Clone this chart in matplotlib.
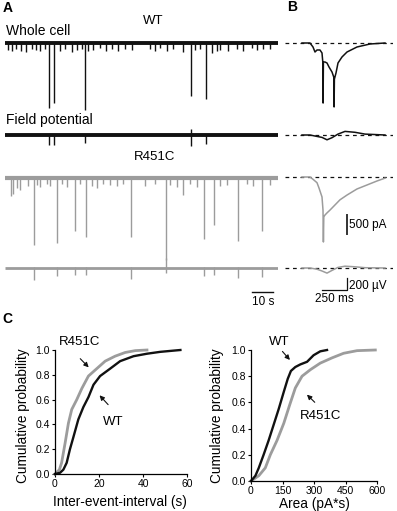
import numpy as np
import matplotlib
matplotlib.use('agg')
import matplotlib.pyplot as plt

plt.rcParams['font.family'] = ['Liberation Sans', 'DejaVu Sans']

# ---- data ----
# panel A, spontaneous events (time in s, amplitude in pA or uV)
wt_big_t = [21.0, 23.3, 38.1, 88.6, 95.7]
wt_big_amp = [1710, 1580, 1760, 1390, 1470]
wt_small_t = [1.4, 3.3, 5.2, 7.6, 10.0, 12.9, 14.8, 16.7, 19.0, 26.2, 28.6, 31.9,
              34.3, 36.7, 39.5, 41.9, 45.2, 48.1, 51.0, 53.8, 57.1, 60.5, 69.0, 71.4,
              73.8, 77.1, 80.0, 84.8, 90.5, 92.9, 98.6, 101.0, 102.4, 106.2, 110.5,
              113.3, 117.6, 120.0, 122.9, 126.2]
wt_small_amp = [180, 220, 160, 200, 240, 150, 190, 210, 170, 200, 150, 230, 180, 160,
                210, 190, 140, 200, 170, 220, 150, 180, 160, 200, 140, 210, 170, 230,
                190, 150, 260, 220, 180, 200, 160, 210, 140, 190, 170, 150]
wt_fp_down = [170, 160, 140, 180, 150]
wt_fp_up = [20, 20, 20, 100, 20]

r_big_t = [2.9, 3.8, 13.8, 24.8, 33.3, 38.6, 60.0, 76.7, 84.8, 94.8, 99.5, 111.0, 122.4]
r_big_amp = [470, 420, 1760, 1710, 1390, 1550, 1550, 2160, 450, 1600, 1240, 1660, 1390]
r_small_t = [5.7, 7.1, 11.0, 15.2, 16.7, 20.0, 21.4, 27.1, 29.5, 35.7, 41.4, 43.8, 46.7,
             50.0, 53.3, 56.2, 66.7, 71.4, 78.6, 81.9, 88.1, 91.4, 102.4, 105.7, 115.2,
             118.1, 126.2]
r_small_amp = [260, 320, 200, 180, 240, 150, 210, 170, 230, 160, 200, 260, 150, 190,
               220, 170, 210, 160, 190, 250, 170, 230, 200, 180, 160, 210, 190]
r_fp_t = [13.8, 24.8, 33.3, 38.6, 60.0, 76.7, 94.8, 99.5, 111.0, 122.4]
r_fp_down = [195, 140, 120, 120, 180, 85, 135, 110, 165, 155]
r_fp_up = [20, 20, 15, 15, 20, 170, 20, 15, 20, 20]

# panel B, averaged events (time in ms)
wt_avg_t = [0, 80, 110, 130, 150, 180, 200, 208, 211, 214, 230, 250, 270, 300, 318,
            321, 324, 340, 360, 400, 450, 550, 680, 830]
wt_avg_pA = [0, 0, -105, -237, -184, -184, -263, -500, -1580, -500, -500, -526, -631,
             -763, -900, -1683, -950, -789, -526, -368, -237, -105, -26, 0]
wt_fp_avg_t = [0, 80, 130, 200, 250, 300, 360, 430, 530, 630, 830]
wt_fp_avg_uV = [0, 0, -17, -40, -80, -45, 15, 60, 45, 15, 0]
r_avg_t = [0, 80, 110, 150, 170, 200, 210, 214, 218, 230, 250, 280, 330, 380, 450,
           550, 650, 750, 830]
r_avg_pA = [0, 0, -60, -150, -290, -525, -870, -1710, -1050, -1000, -945, -870, -735,
            -600, -475, -315, -210, -105, -30]
r_fp_avg_t = [0, 80, 150, 200, 250, 300, 360, 430, 530, 630, 830]
r_fp_avg_uV = [0, 0, -20, -50, -85, -40, 10, 30, 20, 5, 0]

# panel C, cumulative distributions
iei_wt_x = [0, 2.3, 3.8, 5.3, 6.8, 8.4, 10.6, 12.9, 15.2, 17.5, 20.5, 25.1, 29.6,
            35.7, 41.8, 47.8, 53.9, 57.0]
iei_wt_y = [0, 0.01, 0.035, 0.09, 0.2, 0.3, 0.44, 0.54, 0.62, 0.72, 0.79, 0.85, 0.91,
            0.95, 0.97, 0.985, 0.995, 1.0]
iei_r_x = [0, 2.0, 3.0, 4.6, 6.1, 7.6, 9.9, 12.2, 15.2, 19.0, 22.8, 27.3, 31.9, 36.5, 41.8]
iei_r_y = [0, 0.035, 0.09, 0.25, 0.41, 0.52, 0.60, 0.69, 0.79, 0.85, 0.91, 0.95, 0.98,
           0.995, 1.0]
area_wt_x = [0, 21, 37, 60, 84, 108, 132, 156, 175, 190, 211, 235, 267, 298, 330, 362]
area_wt_y = [0, 0.04, 0.1, 0.2, 0.31, 0.43, 0.55, 0.68, 0.78, 0.84, 0.87, 0.89, 0.91,
             0.96, 0.99, 1.0]
area_r_x = [0, 37, 68, 92, 124, 156, 184, 211, 243, 283, 330, 386, 441, 505, 592]
area_r_y = [0, 0.04, 0.1, 0.2, 0.31, 0.44, 0.58, 0.71, 0.8, 0.85, 0.9, 0.94, 0.975,
            0.995, 1.0]

BLACK = '#111111'
GREY = '#9c9c9c'
W, H = 397, 511
PA_PX = 500 / 19.0   # pA per pixel (500 pA bar)
UV_PX = 200 / 12.0   # uV per pixel (200 uV bar)

fig = plt.figure(figsize=(W / 100, H / 100), dpi=100)


def px_axes(x0, y0, x1, y1):
    return fig.add_axes([x0 / W, 1 - y1 / H, (x1 - x0) / W, (y1 - y0) / H])


def trace_axes(x0, x1, base, t0, t1, per_px, above=14, below=90):
    ax = px_axes(x0, base - above, x1, base + below)
    ax.set_xlim(t0, t1)
    ax.set_ylim(-below * per_px, above * per_px)
    ax.axis('off')
    return ax


def ftext(x, y, s, **kw):
    fig.text(x / W, 1 - y / H, s, **kw)


def raw_trace(ax, color, lw, big_t, big_amp, small_t=None, small_amp=None, up=None):
    ax.plot([0, 130], [0, 0], color=color, lw=lw, solid_capstyle='butt')
    top = [0] * len(big_t) if up is None else up
    ax.vlines(big_t, [-a for a in big_amp], top, color=color, lw=1.0)
    if small_t is not None:
        ax.vlines(small_t, [-a for a in small_amp], 0, color=color, lw=1.0)


# ---- panel A ----
ax = trace_axes(5, 278, 43, 0, 130, PA_PX)
raw_trace(ax, BLACK, 2.8, wt_big_t, wt_big_amp, wt_small_t, wt_small_amp)
ax = trace_axes(5, 278, 135, 0, 130, UV_PX, below=20)
raw_trace(ax, BLACK, 2.8, wt_big_t, wt_fp_down, up=wt_fp_up)
ax = trace_axes(5, 278, 178, 0, 130, PA_PX)
raw_trace(ax, GREY, 3.0, r_big_t, r_big_amp, r_small_t, r_small_amp)
ax = trace_axes(5, 278, 268, 0, 130, UV_PX, below=40)
raw_trace(ax, GREY, 2.0, r_fp_t, r_fp_down, up=r_fp_up)
ax.plot([117.6, 127.6], [-400, -400], color=BLACK, lw=1.0, clip_on=False)

ftext(3, 8, 'A', fontsize=10, fontweight='bold', va='center')
ftext(153, 21, 'WT', fontsize=9.5, ha='center', va='center')
ftext(6, 31, 'Whole cell', fontsize=10, va='center')
ftext(6, 120, 'Field potential', fontsize=10, va='center')
ftext(155, 157, 'R451C', fontsize=9.5, ha='center', va='center')
ftext(263, 302, '10 s', fontsize=8.5, ha='center', va='center')

# ---- panel B ----
for base, per_px, t, v, col in [(43, PA_PX, wt_avg_t, wt_avg_pA, BLACK),
                                (135, UV_PX, wt_fp_avg_t, wt_fp_avg_uV, BLACK),
                                (177, PA_PX, r_avg_t, r_avg_pA, GREY),
                                (268, UV_PX, r_fp_avg_t, r_fp_avg_uV, GREY)]:
    ax = trace_axes(285, 393, base, -170, 910, per_px)
    ax.plot([-170, 910], [0, 0], color=BLACK, lw=0.9, ls=(0, (3, 3)))
    ax.plot(t, v, color=col, lw=1.1)
    if base == 177:
        ax.plot([450, 450], [-1000, -1500], color='#333333', lw=1.4)
    if base == 268:
        ax.plot([200, 450, 450], [-367, -367, -167], color=BLACK, lw=0.9, clip_on=False)

ftext(287, 7, 'B', fontsize=10, fontweight='bold', va='center')
ftext(349, 225, '500 pA', fontsize=8.5, va='center')
ftext(349, 286, '200 µV', fontsize=8.5, va='center')
ftext(334, 299, '250 ms', fontsize=8.5, ha='center', va='center')

# ---- panel C ----
ftext(2, 319, 'C', fontsize=10, fontweight='bold', va='center')


def cum_axes(box, xmax, xticks):
    ax = px_axes(*box)
    ax.set_xlim(0, xmax)
    ax.set_ylim(0, 1.0)
    ax.set_xticks(xticks)
    ax.set_yticks([0, 0.2, 0.4, 0.6, 0.8, 1.0])
    ax.set_yticklabels(['0.0', '0.2', '0.4', '0.6', '0.8', '1.0'])
    for s in ['top', 'right']:
        ax.spines[s].set_visible(False)
    for s in ['left', 'bottom']:
        ax.spines[s].set_linewidth(0.9)
    ax.tick_params(direction='out', length=2.5, width=0.8, labelsize=7.5, pad=1)
    return ax


arrow = dict(arrowstyle='-|>', color=BLACK, lw=0.8, mutation_scale=7)

ax = cum_axes((55, 350, 187, 474), 60, [0, 20, 40, 60])
ax.plot(iei_r_x, iei_r_y, color=GREY, lw=2.0, clip_on=False)
ax.plot(iei_wt_x, iei_wt_y, color=BLACK, lw=1.7, clip_on=False)
ax.text(11.1, 1.067, 'R451C', fontsize=9.5, ha='center', va='center')
ax.annotate('', xy=(16.2, 0.844), xytext=(10.6, 0.946), arrowprops=arrow)
ax.text(26.3, 0.42, 'WT', fontsize=9.5, ha='center', va='center')
ax.annotate('', xy=(19.4, 0.651), xytext=(25.0, 0.543), arrowprops=arrow)
ftext(23, 416, 'Cumulative probability', fontsize=9.8, rotation=90, ha='center', va='center')
ftext(120, 502, 'Inter-event-interval (s)', fontsize=9.8, ha='center', va='center')

ax = cum_axes((251, 350, 377, 481), 600, [0, 150, 300, 450, 600])
ax.plot(area_r_x, area_r_y, color=GREY, lw=2.0, clip_on=False)
ax.plot(area_wt_x, area_wt_y, color=BLACK, lw=1.7, clip_on=False)
ax.text(134, 1.062, 'WT', fontsize=9.5, ha='center', va='center')
ax.annotate('', xy=(194, 0.908), xytext=(141, 1.005), arrowprops=arrow)
ax.text(333, 0.498, 'R451C', fontsize=9.5, ha='center', va='center')
ax.annotate('', xy=(257, 0.674), xytext=(313, 0.586), arrowprops=arrow)
ftext(217, 416, 'Cumulative probability', fontsize=9.8, rotation=90, ha='center', va='center')
ftext(314, 504, 'Area (pA*s)', fontsize=9.8, ha='center', va='center')

fig.savefig('out.png', dpi=100)
